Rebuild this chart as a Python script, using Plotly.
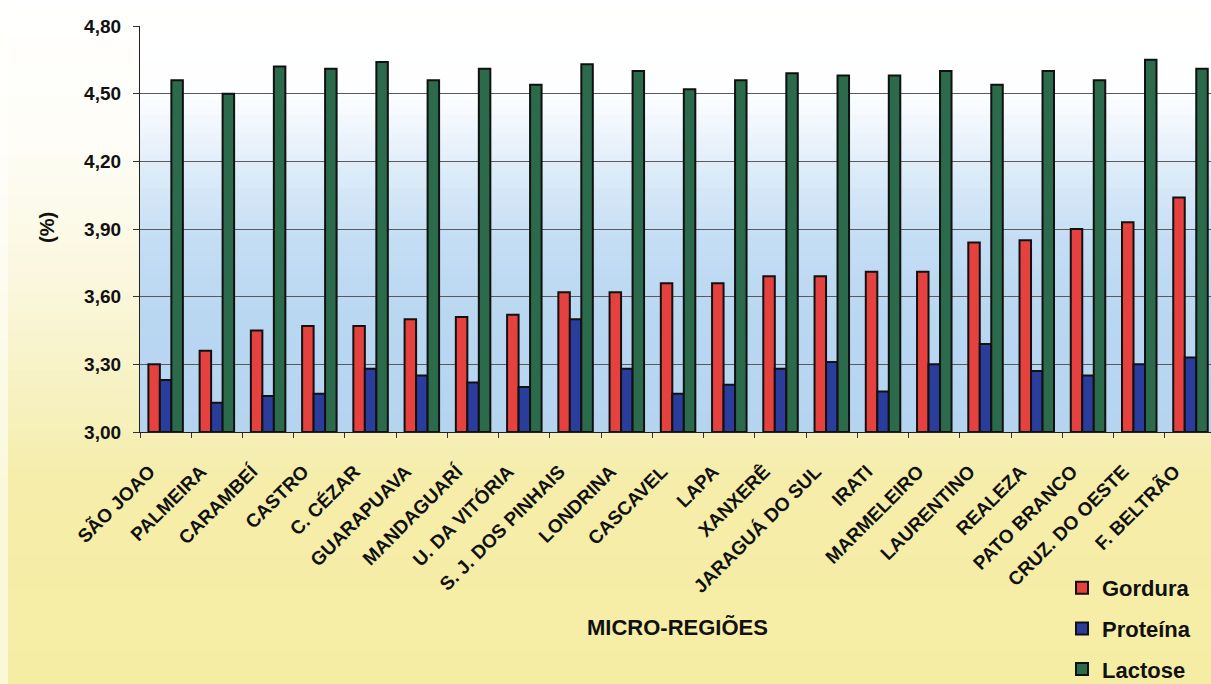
import plotly.graph_objects as go

# Micro-regions and milk component means (%)
regioes = ["SÃO JOAO", "PALMEIRA", "CARAMBEÍ", "CASTRO", "C. CÉZAR", "GUARAPUAVA",
           "MANDAGUARÍ", "U. DA VITÓRIA", "S. J. DOS PINHAIS", "LONDRINA", "CASCAVEL",
           "LAPA", "XANXERÊ", "JARAGUÁ DO SUL", "IRATI", "MARMELEIRO", "LAURENTINO",
           "REALEZA", "PATO BRANCO", "CRUZ. DO OESTE", "F. BELTRÃO"]
gordura = [3.30, 3.36, 3.45, 3.47, 3.47, 3.50, 3.51, 3.52, 3.62, 3.62, 3.66,
           3.66, 3.69, 3.69, 3.71, 3.71, 3.84, 3.85, 3.90, 3.93, 4.04]
proteina = [3.23, 3.13, 3.16, 3.17, 3.28, 3.25, 3.22, 3.20, 3.50, 3.28, 3.17,
            3.21, 3.28, 3.31, 3.18, 3.30, 3.39, 3.27, 3.25, 3.30, 3.33]
lactose = [4.56, 4.50, 4.62, 4.61, 4.64, 4.56, 4.61, 4.54, 4.63, 4.60, 4.52,
           4.56, 4.59, 4.58, 4.58, 4.60, 4.54, 4.60, 4.56, 4.65, 4.61]
y_ticks = [3.00, 3.30, 3.60, 3.90, 4.20, 4.50, 4.80]

W, H = 1211, 684
L, R, T, B = 140, 0, 26, 252
PW, PH = W - L - R, H - T - B
FONT = "Arial, Liberation Sans, sans-serif"


def px_to_paper_x(px):
    return (px - L) / PW


def px_to_paper_y(py):
    return (H - B - py) / PH


def hex_to_rgb(h):
    h = h.lstrip("#")
    return tuple(int(h[i:i + 2], 16) for i in (0, 2, 4))


def interp(stops, t):
    for (t0, c0), (t1, c1) in zip(stops, stops[1:]):
        if t0 <= t <= t1:
            f = 0 if t1 == t0 else (t - t0) / (t1 - t0)
            a, b = hex_to_rgb(c0), hex_to_rgb(c1)
            return "rgb(%d,%d,%d)" % tuple(round(a[i] + (b[i] - a[i]) * f) for i in range(3))
    return stops[-1][1]


shapes = []

# page background: white at the top fading to pale yellow (pixel rows)
page_stops = [(0, "#ffffff"), (140, "#fefdf7"), (300, "#faf6da"),
              (420, "#f6f0bb"), (480, "#f5eda9"), (684, "#f6eda5")]
n = 70
for i in range(n):
    y0 = H * i / n
    y1 = H * (i + 1) / n
    col = interp(page_stops, (y0 + y1) / 2)
    shapes.append(dict(type="rect", xref="paper", yref="paper", layer="below",
                       x0=px_to_paper_x(0), x1=px_to_paper_x(W),
                       y0=px_to_paper_y(y1), y1=px_to_paper_y(y0) + 0.002,
                       fillcolor=col, line_width=0))
# faint light strip along the left edge
shapes.append(dict(type="rect", xref="paper", yref="paper", layer="below",
                   x0=px_to_paper_x(0), x1=px_to_paper_x(8),
                   y0=px_to_paper_y(H), y1=px_to_paper_y(0),
                   fillcolor="rgba(255,255,252,0.6)", line_width=0))

# plot area: white near the top, sky blue lower down (domain fraction, 0 = bottom)
plot_stops = [(0.0, "#b5d4f0"), (0.28, "#b9d7f1"), (0.47, "#c4ddf4"),
              (0.61, "#d8e9f8"), (0.74, "#eef5fc"), (0.83, "#fdfeff"), (1.0, "#ffffff")]
n = 60
for i in range(n):
    d0 = i / n
    d1 = (i + 1) / n
    col = interp(plot_stops, (d0 + d1) / 2)
    shapes.append(dict(type="rect", xref="x domain", yref="y domain", layer="below",
                       x0=0, x1=1, y0=d0, y1=min(1, d1 + 0.002),
                       fillcolor=col, line_width=0))

fig = go.Figure()
series = [("Gordura", gordura, "#e5423f"),
          ("Proteína", proteina, "#2a3d9c"),
          ("Lactose", lactose, "#2b6a4b")]
for name, vals, color in series:
    fig.add_trace(go.Bar(
        x=regioes, y=[v - 3.0 for v in vals], base=3.0, name=name,
        legendgroup=name,
        marker=dict(color=color, line=dict(color="#111111", width=2)),
        hovertemplate="%{x}<br>" + name + ": %{customdata:.2f}<extra></extra>",
        customdata=vals,
    ))

fig.update_layout(
    width=W, height=H,
    margin=dict(l=L, r=R, t=T, b=B, pad=0, autoexpand=False),
    paper_bgcolor="#ffffff",
    plot_bgcolor="#b6d5f0",
    separators=",.",
    barmode="group",
    bargap=0.327,
    bargroupgap=0.0,
    shapes=shapes,
    font=dict(family=FONT, color="#111111"),
    showlegend=True,
    legend=dict(
        x=px_to_paper_x(1062), y=px_to_paper_y(567), xanchor="left", yanchor="top",
        bgcolor="rgba(0,0,0,0)", borderwidth=0,
        font=dict(family=FONT, size=22, color="#111111", weight="bold"),
        tracegroupgap=9, itemwidth=30,
    ),
    xaxis=dict(
        type="category",
        range=[-0.5, 20.4],
        automargin=False,
        tickangle=-45,
        tickfont=dict(family=FONT, size=19, color="#111111", weight="bold"),
        ticklabelstandoff=20, ticklabelshift=-16,
        ticks="outside", ticklen=5, tickcolor="#333333", tickwidth=1,
        tickson="boundaries",
        showline=True, linecolor="#222222", linewidth=1.2,
        showgrid=False, zeroline=False,
    ),
    yaxis=dict(
        range=[3.0, 4.8],
        automargin=False,
        tickvals=y_ticks,
        tickformat=".2f",
        tickfont=dict(family=FONT, size=19, color="#111111", weight="bold"),
        ticklabelstandoff=8,
        ticks="outside", ticklen=6, tickcolor="#333333", tickwidth=1,
        showline=True, linecolor="#222222", linewidth=1.2,
        showgrid=True, gridcolor="#5a5a5a", gridwidth=1,
        zeroline=False,
    ),
    annotations=[
        dict(text="MICRO-REGIÕES", xref="paper", yref="paper",
             x=px_to_paper_x(677), y=px_to_paper_y(627), xanchor="center", yanchor="middle",
             showarrow=False, font=dict(family=FONT, size=22, color="#111111", weight="bold")),
        dict(text="(%)", xref="paper", yref="paper", textangle=-90,
             x=px_to_paper_x(47), y=px_to_paper_y(228), xanchor="center", yanchor="middle",
             showarrow=False, font=dict(family=FONT, size=20, color="#111111", weight="bold")),
    ],
)

fig.write_html("out.html")
